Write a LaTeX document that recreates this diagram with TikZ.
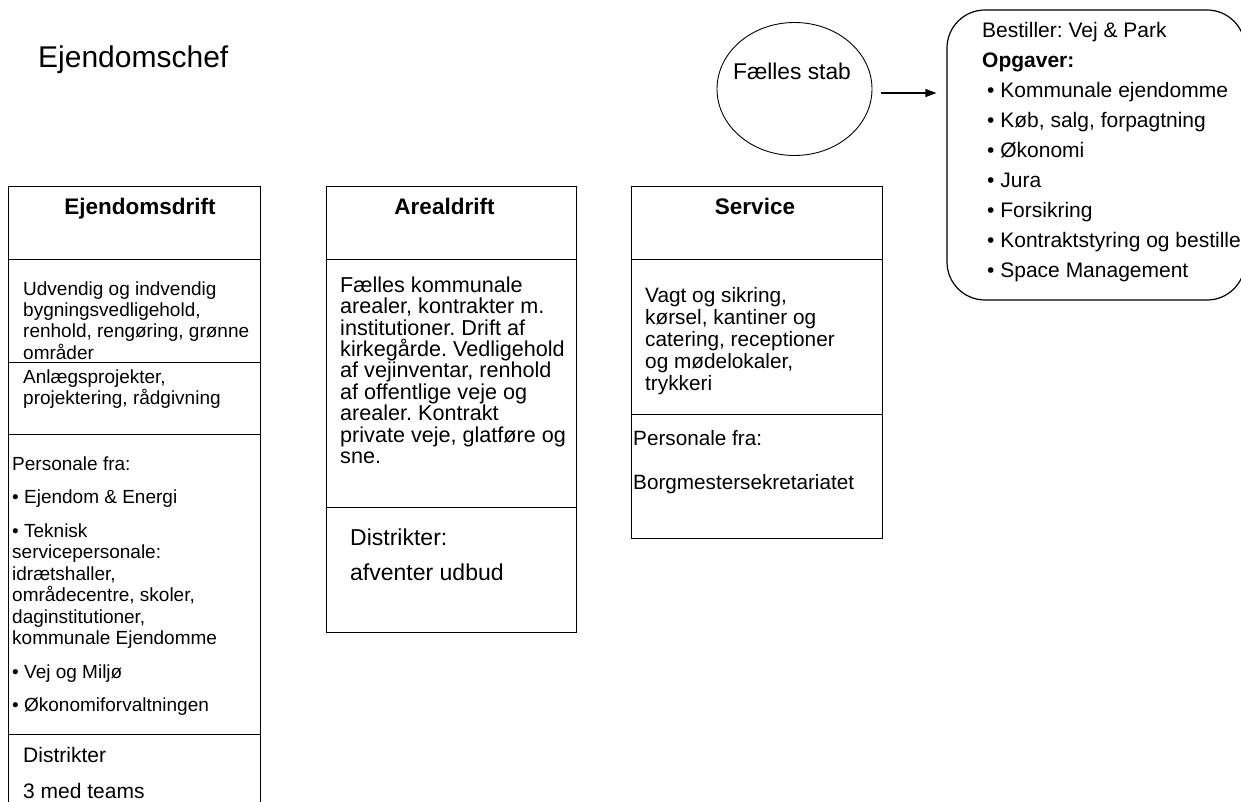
\documentclass[tikz,border=0pt]{standalone}
\usepackage{fontspec}
\setmainfont{Liberation Sans}
\usetikzlibrary{shapes.geometric,arrows.meta}
% text sizes (in pt, one pt per pixel of the page)
\newcommand\sz[2]{\fontsize{#1pt}{#2pt}\selectfont}
\newcommand\tstrut{\rule{0pt}{20pt}}

\begin{document}
\frenchspacing
\begin{tikzpicture}[x=1pt,y=-1pt,
  section/.style={draw, line width=1.4pt, rectangle, inner sep=0pt, anchor=north west},
  txt/.style={anchor=north west, inner sep=0pt, align=left},
  head/.style={anchor=base, inner sep=0pt, font=\sz{22.5}{26}\bfseries},
  arr/.style={line width=1.2pt, -{Triangle[length=11pt,width=8pt]}}
]
\useasboundingbox (0,0) rectangle (1241,802);
\clip (0,0) rectangle (1241,802);

% title
\node[anchor=base west, inner sep=0pt, font=\sz{30}{34}] (title) at (38,68) {Ejendomschef};

% Ejendomsdrift column
\node[section, minimum width=252pt, minimum height=73pt]  (e1) at (8,186) {};
\node[section, minimum width=252pt, minimum height=103pt] (e2) at (8,259) {};
\node[section, minimum width=252pt, minimum height=72pt]  (e3) at (8,362) {};
\node[section, minimum width=252pt, minimum height=300pt] (e4) at (8,434) {};
\node[section, minimum width=252pt, minimum height=90pt]  (e5) at (8,734) {};
\node[head] (e1-t) at (140,215) {Ejendomsdrift};
\node[txt, font=\sz{19}{21.3}] (e2-t) at (23,275) {\tstrut Udvendig og indvendig\\bygningsvedligehold,\\renhold, rengøring, grønne\\områder};
\node[txt, font=\sz{19}{21.5}] (e3-t) at (23,363) {\tstrut Anlægsprojekter,\\projektering, rådgivning};
\node[txt, font=\sz{19}{21.5}] (e4-t) at (12,450) {\tstrut Personale fra:\\[12pt]• Ejendom \& Energi\\[12pt]• Teknisk\\servicepersonale:\\idrætshaller,\\områdecentre, skoler,\\daginstitutioner,\\kommunale Ejendomme\\[12pt]• Vej og Miljø\\[12pt]• Økonomiforvaltningen};
\node[txt, font=\sz{21}{21.5}] (e5-t) at (23,742) {\tstrut Distrikter\\[14.5pt]3 med teams};

% Arealdrift column
\node[section, minimum width=250pt, minimum height=73pt]  (a1) at (326,186) {};
\node[section, minimum width=250pt, minimum height=248pt] (a2) at (326,259) {};
\node[section, minimum width=250pt, minimum height=125pt] (a3) at (326,507) {};
\node[head] (a1-t) at (444.5,215) {Arealdrift};
\node[txt, font=\sz{21.6}{21.4}] (a2-t) at (340,272) {\tstrut Fælles kommunale\\arealer, kontrakter m.\\institutioner. Drift af\\kirkegårde. Vedligehold\\af vejinventar, renhold\\af offentlige veje og\\arealer. Kontrakt\\private veje, glatføre og\\sne.};
\node[txt, font=\sz{23}{21.5}] (a3-t) at (350,525) {\tstrut Distrikter:\\[13.5pt]afventer udbud};

% Service column
\node[section, minimum width=251pt, minimum height=73pt]  (s1) at (631,186) {};
\node[section, minimum width=251pt, minimum height=155pt] (s2) at (631,259) {};
\node[section, minimum width=251pt, minimum height=124pt] (s3) at (631,414) {};
\node[head] (s1-t) at (755,215) {Service};
\node[txt, font=\sz{20.8}{22}] (s2-t) at (645,282) {\tstrut Vagt og sikring,\\kørsel, kantiner og\\catering, receptioner\\og mødelokaler,\\trykkeri};
\node[txt, font=\sz{20.7}{21.5}] (s3-t) at (633,425) {\tstrut Personale fra:\\[22.5pt]Borgmestersekretariatet};

% staff circle and ordering box
\node[draw, ellipse, line width=0.9pt, minimum width=155pt, minimum height=133pt, inner sep=0pt] (fs) at (794.5,89) {};
\node[anchor=base, inner sep=0pt, font=\sz{22.8}{26}] (fs-t) at (792,80) {Fælles stab};
\node[draw, rectangle, rounded corners=38pt, line width=1.2pt, minimum width=298pt, minimum height=290pt, inner sep=0pt] (best) at (1096,155) {};
\node[txt, font=\sz{21}{30}] (best-t) at (982,17) {\tstrut Bestiller: Vej \& Park\\\textbf{Opgaver:}\\\hspace*{5pt}• Kommunale ejendomme\\\hspace*{5pt}• Køb, salg, forpagtning\\\hspace*{5pt}• Økonomi\\\hspace*{5pt}• Jura\\\hspace*{5pt}• Forsikring\\\hspace*{5pt}• Kontraktstyring og bestiller\\\hspace*{5pt}• Space Management};

\draw[arr, shorten <=9pt, shorten >=10pt] ([yshift=-4pt]fs.east) -- ([yshift=-4pt]fs.east -| best.west);
\end{tikzpicture}
\end{document}
